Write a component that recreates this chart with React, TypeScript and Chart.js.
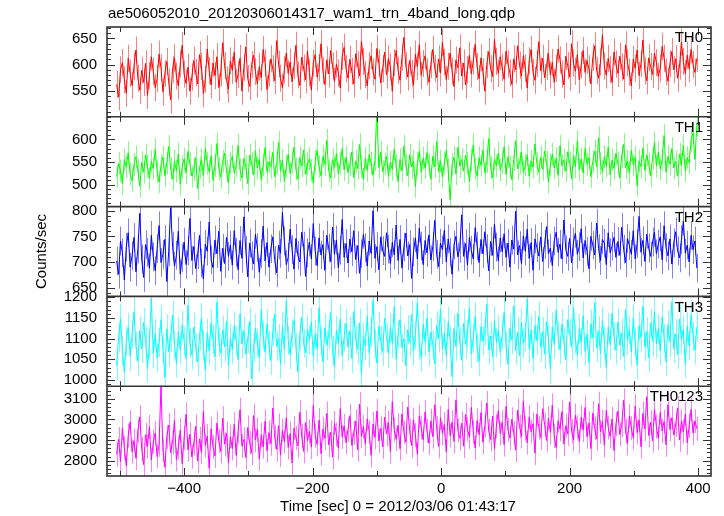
import React, { useEffect, useRef } from "react";
import { Chart, registerables } from "chart.js";

Chart.register(...registerables);

const TITLE = "ae506052010_20120306014317_wam1_trn_4band_long.qdp";
const X_TITLE = "Time [sec] 0 = 2012/03/06 01:43:17";
const Y_TITLE = "Counts/sec";

const BAND_NAMES = ["TH0", "TH1", "TH2", "TH3", "TH0123"];
const BAND_COLORS = ["#ff0000", "#00ff00", "#0000ff", "#00ffff", "#ff00ff"];
const BAND_ERR_COLORS = ["rgba(255,0,0,0.5)", "rgba(0,255,0,0.5)", "rgba(0,0,255,0.5)", "rgba(0,255,255,0.55)", "rgba(255,0,255,0.5)"];

// time bins (bin centers, seconds)
const TIME_START = -505;
const TIME_STEP = 3;

// 1-sigma error per bin for each band (counts/sec)
const BAND_ERR = [26, 25, 28, 35, 58];

const X_MIN = -520;
const X_MAX = 420;
const X_TICKS = [-400, -200, 0, 200, 400];

const Y_MIN = [500, 452, 633, 985, 2726];
const Y_MAX = [672, 650, 808, 1202, 3161];
const Y_TICKS_TH0 = [550, 600, 650];
const Y_TICKS_TH1 = [500, 550, 600];
const Y_TICKS_TH2 = [650, 700, 750, 800];
const Y_TICKS_TH3 = [1000, 1050, 1100, 1150, 1200];
const Y_TICKS_TH0123 = [2800, 2900, 3000, 3100];
const MINOR_STEP = [10, 10, 10, 10, 20];

const TH0 = [
  562, 538, 590, 604, 571, 545, 612, 583, 560, 597, 628, 574, 551, 589, 566, 602, 541, 579, 615, 587,
  556, 573, 620, 594, 548, 583, 606, 567, 532, 591, 613, 578, 559, 601, 637, 582, 564, 595, 549, 576,
  608, 585, 563, 619, 597, 544, 572, 630, 588, 561, 603, 579, 615, 556, 584, 642, 598, 570, 553, 607,
  589, 624, 566, 581, 612, 549, 595, 634, 573, 558, 600, 618, 587, 563, 596, 575, 629, 604, 552, 583,
  611, 592, 569, 646, 601, 574, 556, 590, 622, 583, 605, 567, 598, 637, 580, 560, 614, 593, 571, 626,
  585, 551, 603, 619, 576, 594, 640, 588, 562, 609, 582, 627, 597, 568, 601, 584, 555, 616, 633, 592,
  574, 610, 587, 563, 621, 599, 578, 645, 606, 581, 559, 598, 617, 586, 572, 631, 603, 565, 592, 624,
  580, 612, 595, 549, 604, 627, 589, 570, 614, 652, 598, 576, 608, 583, 561, 620, 596, 638, 579, 602,
  617, 586, 566, 600, 629, 593, 575, 611, 584, 643, 605, 571, 597, 622, 588, 558, 609, 594, 632, 578,
  603, 561, 590, 618, 582, 607, 639, 596, 573, 613, 586, 549, 600, 625, 592, 577, 648, 606, 583, 615,
  594, 572, 626, 601, 584, 562, 611, 590, 636, 599, 578, 617, 593, 555, 607, 629, 585, 570, 602, 644,
  588, 612, 575, 597, 621, 580, 604, 566, 593, 630, 609, 582, 561, 616, 598, 576, 640, 603, 587, 619,
  571, 599, 627, 585, 608, 592, 563, 614, 636, 589, 574, 605, 657, 597, 580, 612, 590, 566, 624, 601,
  583, 616, 595, 572, 638, 604, 586, 559, 610, 593, 628, 579, 602, 647, 588, 569, 613, 596, 581, 622,
  604, 577, 593, 635, 612, 586, 568, 601, 625, 590, 611, 574, 597, 643, 606, 583, 618, 592, 629, 600,
  585, 612,
];

const TH1 = [
  518, 547, 531, 502, 556, 539, 571, 524, 509, 545, 562, 533, 497, 549, 528, 566, 541, 514, 552, 536,
  578, 529, 506, 543, 561, 520, 548, 585, 537, 512, 553, 530, 568, 501, 540, 557, 526, 574, 546, 519,
  534, 560, 492, 538, 555, 521, 580, 547, 529, 564, 510, 543, 591, 536, 517, 552, 570, 531, 505, 549,
  563, 526, 542, 587, 533, 515, 558, 540, 503, 566, 548, 522, 575, 537, 556, 511, 544, 582, 528, 551,
  539, 572, 518, 547, 594, 530, 554, 508, 541, 567, 525, 549, 583, 535, 513, 560, 542, 577, 523, 546,
  558, 532, 504, 551, 576, 540, 520, 563, 545, 598, 531, 515, 556, 538, 569, 524, 547, 580, 533, 561,
  527, 544, 573, 516, 552, 536, 589, 541, 512, 558, 532, 567, 548, 521, 555, 668, 538, 572, 529, 546,
  563, 518, 550, 534, 579, 542, 507, 556, 531, 585, 544, 520, 566, 539, 552, 496, 547, 574, 528, 559,
  537, 571, 545, 512, 563, 540, 595, 529, 553, 517, 548, 576, 533, 467, 545, 561, 524, 583, 541, 556,
  530, 565, 547, 508, 554, 588, 536, 519, 560, 543, 577, 526, 551, 602, 538, 515, 557, 542, 570, 532,
  549, 584, 523, 562, 540, 511, 556, 597, 535, 548, 572, 527, 543, 566, 519, 553, 539, 590, 546, 528,
  561, 534, 575, 550, 506, 544, 568, 537, 558, 521, 586, 542, 555, 530, 573, 549, 513, 564, 540, 596,
  533, 557, 526, 580, 545, 560, 518, 551, 574, 539, 604, 547, 529, 562, 541, 583, 522, 555, 536, 570,
  548, 515, 563, 589, 538, 552, 527, 576, 544, 561, 498, 553, 540, 581, 532, 566, 547, 520, 559, 593,
  541, 572, 535, 556, 609, 528, 563, 546, 580, 537, 552, 519, 568, 545, 587, 531, 560, 549, 598, 615,
  556, 632,
];

const TH2 = [
  702, 676, 741, 718, 665, 729, 757, 690, 712, 748, 681, 725, 795, 706, 670, 734, 719, 688, 752, 710,
  683, 726, 771, 699, 715, 744, 662, 720, 806, 731, 692, 713, 760, 677, 708, 739, 695, 722, 785, 703,
  730, 687, 714, 752, 698, 667, 735, 721, 778, 704, 689, 743, 716, 760, 682, 727, 697, 748, 711, 733,
  694, 761, 719, 685, 742, 707, 788, 723, 671, 737, 712, 696, 754, 728, 680, 716, 770, 702, 738, 690,
  726, 749, 703, 679, 733, 717, 797, 741, 695, 709, 764, 724, 686, 746, 713, 700, 758, 731, 672, 718,
  739, 706, 775, 721, 693, 747, 714, 734, 684, 752, 727, 701, 768, 715, 743, 689, 723, 783, 709, 736,
  698, 745, 720, 761, 705, 732, 678, 716, 754, 728, 692, 741, 717, 800, 707, 730, 685, 749, 722, 711,
  757, 725, 697, 738, 714, 772, 703, 744, 688, 729, 756, 712, 734, 668, 720, 747, 706, 766, 731, 695,
  742, 718, 753, 704, 730, 781, 715, 691, 737, 724, 762, 700, 745, 719, 676, 733, 750, 710, 727, 792,
  711, 736, 694, 748, 723, 706, 767, 731, 699, 744, 716, 759, 726, 683, 740, 713, 774, 729, 702, 747,
  720, 755, 709, 737, 690, 743, 725, 799, 714, 732, 697, 751, 721, 764, 707, 738, 684, 745, 728, 712,
  749, 701, 734, 769, 716, 727, 693, 741, 758, 719, 735, 706, 782, 724, 711, 746, 698, 739, 756, 715,
  730, 765, 708, 742, 721, 687, 750, 733, 714, 776, 726, 703, 744, 737, 695, 757, 718, 731, 748, 709,
  740, 713, 768, 725, 699, 746, 732, 715, 761, 706, 736, 789, 719, 742, 701, 754, 727, 711, 739, 758,
  716, 735, 749, 704, 771, 728, 712, 745, 696, 737, 759, 722, 708, 743, 780, 717, 733, 700, 752, 724,
  741, 688,
];

const TH3 = [
  1035, 1102, 1148, 1071, 1019, 1093, 1127, 1058, 1110, 1165, 1082, 1046, 1119, 1075, 1139, 1097, 1028, 1086, 1198, 1064,
  1112, 1053, 1091, 1146, 1077, 1006, 1124, 1068, 1103, 1157, 1085, 1040, 1116, 1072, 1133, 1094, 1051, 1180, 1089, 1060,
  1128, 1079, 1043, 1106, 1151, 1083, 1024, 1114, 1070, 1137, 1098, 1056, 1188, 1092, 1065, 1121, 1080, 1143, 1034, 1101,
  1074, 1131, 1095, 1049, 1160, 1087, 1118, 1062, 1099, 1142, 1003, 1078, 1125, 1090, 1054, 1169, 1108, 1067, 1135, 1084,
  1047, 1117, 1159, 1081, 1100, 1038, 1129, 1073, 1192, 1096, 1061, 1113, 1144, 1079, 1020, 1107, 1152, 1088, 1066, 1123,
  1097, 1140, 1057, 1111, 1076, 1174, 1093, 1044, 1126, 1084, 1109, 1163, 1071, 1032, 1120, 1089, 1147, 1059, 1104, 1136,
  1080, 1119, 1052, 1166, 1098, 1074, 1138, 1015, 1105, 1083, 1154, 1066, 1115, 1193, 1087, 1041, 1130, 1095, 1069, 1149,
  1103, 1063, 1127, 1088, 1177, 1050, 1112, 1145, 1078, 1099, 1034, 1122, 1091, 1158, 1070, 1108, 1186, 1082, 1055, 1134,
  1092, 1150, 1068, 1116, 1085, 1039, 1132, 1101, 1171, 1076, 1114, 1059, 1141, 1096, 1008, 1124, 1081, 1162, 1093, 1048,
  1137, 1086, 1110, 1173, 1064, 1100, 1153, 1077, 1045, 1129, 1094, 1118, 1183, 1072, 1106, 1056, 1144, 1090, 1121, 1067,
  1108, 1163, 1083, 1037, 1126, 1097, 1179, 1071, 1115, 1058, 1139, 1089, 1104, 1196, 1075, 1121, 1052, 1132, 1095, 1154,
  1079, 1117, 1062, 1141, 1099, 1026, 1128, 1086, 1168, 1107, 1073, 1135, 1092, 1049, 1146, 1113, 1081, 1175, 1098, 1060,
  1124, 1091, 1155, 1069, 1111, 1042, 1136, 1102, 1187, 1078, 1119, 1064, 1143, 1094, 1030, 1127, 1085, 1161, 1106, 1072,
  1140, 1084, 1113, 1057, 1170, 1096, 1122, 1068, 1149, 1090, 1036, 1131, 1103, 1178, 1080, 1117, 1054, 1138, 1093, 1165,
  1087, 1125, 1070, 1152, 1101, 1044, 1134, 1091, 1189, 1076, 1112, 1061, 1147, 1097, 1121, 1039, 1130, 1083, 1158, 1105,
  1072, 1128,
];

const TH0123 = [
  2830, 2905, 2795, 2958, 2862, 2776, 2921, 2988, 2844, 2897, 2812, 2943, 3012, 2858, 2781, 2926, 2869, 2964, 2803, 2891,
  2934, 2820, 2877, 3160, 2851, 2768, 2915, 2973, 2839, 2889, 2996, 2806, 2862, 2948, 2786, 2910, 3025, 2853, 2929, 2819,
  2884, 2967, 2798, 2906, 2841, 3038, 2874, 2919, 2763, 2955, 2866, 2823, 2982, 2895, 2846, 3006, 2880, 2932, 2790, 2916,
  2859, 2977, 2826, 2940, 3047, 2871, 2903, 2815, 2961, 2887, 2837, 3019, 2900, 2952, 2808, 2925, 2868, 2991, 2848, 2936,
  2883, 3055, 2914, 2855, 2970, 2827, 2947, 2893, 3008, 2864, 2931, 2789, 2958, 2911, 2872, 3034, 2920, 2845, 2985, 2898,
  2942, 2866, 3067, 2921, 2879, 2997, 2835, 2954, 2908, 3029, 2876, 2938, 2817, 2983, 2927, 2861, 3052, 2915, 2969, 2888,
  2950, 3018, 2874, 2935, 2992, 2853, 3074, 2918, 2965, 2882, 3003, 2940, 2826, 2978, 2913, 3041, 2896, 2957, 2867, 3010,
  2929, 2984, 2845, 3086, 2951, 2904, 2972, 2858, 3027, 2937, 2890, 3060, 2946, 2873, 2999, 2924, 2832, 3015, 2962, 2901,
  3036, 2944, 2885, 2993, 2916, 3071, 2958, 2869, 3008, 2932, 2976, 2843, 3049, 2921, 2987, 2894, 3095, 2947, 2908, 2981,
  2870, 3024, 2953, 2915, 3059, 2939, 2862, 2995, 2926, 3033, 2889, 2971, 3080, 2945, 2903, 3016, 2857, 2968, 3042, 2931,
  2986, 2878, 3063, 2949, 2910, 3001, 2934, 2851, 3045, 2966, 2919, 3090, 2955, 2887, 3012, 2941, 2979, 2836, 3027, 2960,
  2912, 3052, 2975, 2898, 3006, 2937, 3069, 2920, 2864, 2994, 2952, 3038, 2881, 2970, 2929, 3085, 2943, 2902, 3020, 2963,
  2893, 3011, 2948, 3058, 2916, 2983, 2859, 3031, 2957, 2905, 3076, 2939, 2990, 2874, 3044, 2961, 2918, 3003, 2850, 2977,
  3040, 2927, 2972, 3093, 2945, 2884, 3017, 2958, 2911, 3064, 2936, 2998, 2868, 3029, 2953, 3110, 2922, 2986, 2897, 3050,
  2965, 2909, 3035, 2944, 2989, 2877, 3072, 2951, 3008, 2925, 2974, 3056, 2900, 2993, 2940, 3026, 2887, 2969, 3048, 2934,
  2992, 2955,
];

const SERIES = [TH0, TH1, TH2, TH3, TH0123];
const Y_TICKS = [Y_TICKS_TH0, Y_TICKS_TH1, Y_TICKS_TH2, Y_TICKS_TH3, Y_TICKS_TH0123];

const FONT = "'Liberation Sans', Arial, Helvetica, sans-serif";
const FRAME = "#333333";

const errorBarPlugin = {
  id: "qdpErrors",
  beforeDatasetsDraw(chart: any) {
    const ctx = chart.ctx;
    const xs = chart.scales.x;
    ctx.save();
    ctx.lineWidth = 1;
    for (let i = 0; i < SERIES.length; i++) {
      const ys = chart.scales["y" + i];
      ctx.save();
      ctx.beginPath();
      ctx.rect(xs.left, ys.top, xs.right - xs.left, ys.bottom - ys.top);
      ctx.clip();
      ctx.strokeStyle = BAND_ERR_COLORS[i];
      ctx.beginPath();
      SERIES[i].forEach((v, k) => {
        const px = Math.round(xs.getPixelForValue(TIME_START + k * TIME_STEP)) + 0.5;
        ctx.moveTo(px, ys.getPixelForValue(v - BAND_ERR[i]));
        ctx.lineTo(px, ys.getPixelForValue(v + BAND_ERR[i]));
      });
      ctx.stroke();
      ctx.restore();
    }
    ctx.restore();
  },
};

const framePlugin = {
  id: "qdpFrame",
  beforeDraw(chart: any) {
    const ctx = chart.ctx;
    ctx.save();
    ctx.fillStyle = "#ffffff";
    ctx.fillRect(0, 0, chart.width, chart.height);
    ctx.restore();
  },
  afterDraw(chart: any) {
    const ctx = chart.ctx;
    const xs = chart.scales.x;
    const L = xs.left;
    const R = xs.right;
    ctx.save();
    ctx.strokeStyle = FRAME;
    ctx.lineWidth = 1;
    for (let i = 0; i < SERIES.length; i++) {
      const ys = chart.scales["y" + i];
      const T = ys.top;
      const B = ys.bottom;
      const step = MINOR_STEP[i];
      ctx.beginPath();
      for (let v = Math.ceil(Y_MIN[i] / step) * step; v <= Y_MAX[i]; v += step) {
        const py = Math.round(ys.getPixelForValue(v)) + 0.5;
        const len = Y_TICKS[i].includes(v) ? 8 : 4;
        ctx.moveTo(L, py);
        ctx.lineTo(L + len, py);
        ctx.moveTo(R, py);
        ctx.lineTo(R - len, py);
      }
      for (let v = -500; v <= 400; v += 100) {
        const px = Math.round(xs.getPixelForValue(v)) + 0.5;
        const len = v % 200 === 0 ? 8 : 5;
        ctx.moveTo(px, T);
        ctx.lineTo(px, T + len);
        ctx.moveTo(px, B);
        ctx.lineTo(px, B - len);
      }
      ctx.stroke();
    }
    ctx.lineWidth = 1.6;
    const top = chart.scales.y0.top;
    const bottom = chart.scales["y" + (SERIES.length - 1)].bottom;
    ctx.strokeRect(L, top, R - L, bottom - top);
    ctx.beginPath();
    for (let i = 1; i < SERIES.length; i++) {
      const y = chart.scales["y" + i].top;
      ctx.moveTo(L, y);
      ctx.lineTo(R, y);
    }
    ctx.stroke();

    ctx.fillStyle = "#000000";
    ctx.font = "15px " + FONT;
    ctx.textBaseline = "middle";
    ctx.textAlign = "left";
    ctx.fillText(TITLE, 108, 14);
    ctx.textAlign = "center";
    ctx.fillText(X_TITLE, 398, 507);
    ctx.save();
    ctx.translate(42, (top + bottom) / 2);
    ctx.rotate(-Math.PI / 2);
    ctx.fillText(Y_TITLE, 0, 0);
    ctx.restore();
    ctx.textAlign = "right";
    for (let i = 0; i < SERIES.length; i++) {
      const ys = chart.scales["y" + i];
      ctx.fillText(BAND_NAMES[i], 703, ys.top + 11);
    }
    ctx.restore();
  },
};

export default function App() {
  const canvasRef = useRef<HTMLCanvasElement | null>(null);

  useEffect(() => {
    if (!canvasRef.current) return;
    const datasets = SERIES.map((arr, i) => ({
      label: BAND_NAMES[i],
      data: arr.map((v, k) => ({ x: TIME_START + k * TIME_STEP, y: v })),
      borderColor: BAND_COLORS[i],
      backgroundColor: BAND_COLORS[i],
      borderWidth: 1,
      pointRadius: 0,
      tension: 0,
      fill: false,
      yAxisID: "y" + i,
    }));

    const scales: any = {
      x: {
        type: "linear",
        position: "bottom",
        min: X_MIN,
        max: X_MAX,
        grid: { display: false, drawTicks: false },
        border: { display: false },
        afterBuildTicks: (s: any) => {
          s.ticks = X_TICKS.map((v) => ({ value: v }));
        },
        afterFit: (s: any) => {
          s.height = 40;
        },
        ticks: {
          autoSkip: false,
          maxRotation: 0,
          color: "#000",
          padding: 4,
          font: { family: FONT, size: 15 },
          callback: (v: any) => String(v).replace("-", "\u2212"),
        },
      },
    };
    SERIES.forEach((_, i) => {
      scales["y" + i] = {
        type: "linear",
        position: "left",
        stack: "panels",
        stackWeight: 1,
        weight: SERIES.length - i,
        min: Y_MIN[i],
        max: Y_MAX[i],
        grid: { display: false, drawTicks: false },
        border: { display: false },
        afterBuildTicks: (s: any) => {
          s.ticks = Y_TICKS[i].map((v) => ({ value: v }));
        },
        afterFit: (s: any) => {
          s.width = 107;
        },
        ticks: {
          autoSkip: false,
          color: "#000",
          padding: 10,
          font: { family: FONT, size: 15 },
          callback: (v: any) => String(v),
        },
      };
    });

    const chart = new Chart(canvasRef.current, {
      type: "line",
      data: { datasets },
      options: {
        responsive: false,
        animation: false,
        devicePixelRatio: 1,
        layout: { padding: { top: 27, right: 13, bottom: 0, left: 0 } },
        plugins: {
          legend: { display: false },
          title: { display: false },
          tooltip: { enabled: false },
        },
        scales,
      },
      plugins: [errorBarPlugin, framePlugin],
    } as any);
    return () => chart.destroy();
  }, []);

  return (
    <div style={{ position: "absolute", left: 0, top: 0, width: 724, height: 516 }}>
      <canvas ref={canvasRef} width={724} height={516} />
    </div>
  );
}
